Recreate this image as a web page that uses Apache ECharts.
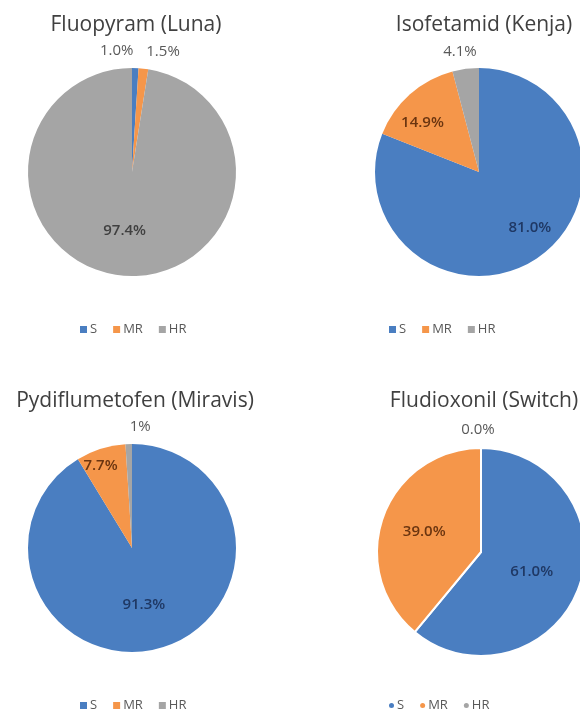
<!DOCTYPE html>
<html>
<head>
<meta charset="utf-8">
<script src="https://cdn.jsdelivr.net/npm/echarts@6/dist/echarts.min.js"></script>
<style>
  html, body { margin: 0; padding: 0; background: #fff; }
  #chart { width: 580px; height: 710px; }
</style>
</head>
<body>
<div id="chart"></div>
<script>
// resistance classes
const categories = ['S', 'MR', 'HR']
const titles = ['Fluopyram (Luna)', 'Isofetamid (Kenja)', 'Pydiflumetofen (Miravis)', 'Fludioxonil (Switch)']
// percent of isolates per class
const luna = [1.0, 1.5, 97.4]
const kenja = [81.0, 14.9, 4.1]
const miravis = [91.3, 7.7, 1]
const fludi = [61.0, 39.0, 0.0]

const colors = ['#4A7EC1', '#F5964A', '#A5A5A5']
const font = 'Open Sans'

// one entry per pie: centre, label offsets and label colours (null = outside-looking label)
const pies = [
  { values: luna, center: [132, 172], title: [131, 10], legend: [75, 318], icon: 'rect',
    offsets: [[-17, -66], [25, -66], [-3, 4]], lab: [null, null, '#404040'], fixed: true },
  { values: kenja, center: [479, 172], title: [479, 10], legend: [384, 318], icon: 'rect',
    offsets: [[20, 10], [-20, -8], [-12, -66]], lab: ['#1F3864', '#6B3510', null], fixed: true },
  { values: miravis, center: [132, 548], title: [130, 386], legend: [75, 694], icon: 'rect',
    offsets: [[-3, 4], [-15, -30], [10, -66]], lab: ['#1F3864', '#6B3510', null], fixed: false },
  { values: fludi, center: [481, 552], title: [479, 386], legend: [384, 694], icon: 'circle',
    offsets: [[-1, 1], [-5, -2], [-3, -67]], lab: ['#1F3864', '#6B3510', null], fixed: true, border: true }
]

const chart = echarts.init(document.getElementById('chart'))

const option = {
  animation: false,
  title: pies.map((p, i) => ({
    text: titles[i],
    left: p.title[0],
    top: p.title[1],
    textAlign: 'center',
    textStyle: { fontFamily: font, fontSize: 21, fontWeight: 'normal', color: '#404040' }
  })),
  legend: pies.map((p) => ({
    data: categories,
    left: p.legend[0],
    top: p.legend[1],
    icon: p.icon,
    itemWidth: p.icon === 'circle' ? 5 : 7,
    itemHeight: p.icon === 'circle' ? 5 : 7,
    itemGap: 16,
    selectedMode: false,
    textStyle: { fontFamily: font, fontSize: 13, color: '#595959', padding: [0, 0, 0, -2] }
  })),
  series: pies.map((p) => ({
    type: 'pie',
    center: p.center,
    radius: 104,
    startAngle: 90,
    clockwise: true,
    avoidLabelOverlap: false,
    labelLine: { show: false },
    itemStyle: p.border ? { borderColor: '#fff', borderWidth: 2 } : { borderWidth: 0 },
    emphasis: { disabled: true },
    data: categories.map((c, j) => ({
      name: c,
      value: p.values[j],
      itemStyle: { color: colors[j] },
      label: {
        show: true,
        position: 'inside',
        offset: p.offsets[j],
        color: p.lab[j] || '#595959',
        fontWeight: p.lab[j] ? 600 : 'normal',
        fontFamily: font,
        fontSize: 15,
        formatter: (d) => (p.fixed ? d.value.toFixed(1) : String(d.value)) + '%'
      }
    }))
  }))
}

chart.setOption(option)
window.addEventListener('resize', () => chart.resize())
</script>
</body>
</html>
